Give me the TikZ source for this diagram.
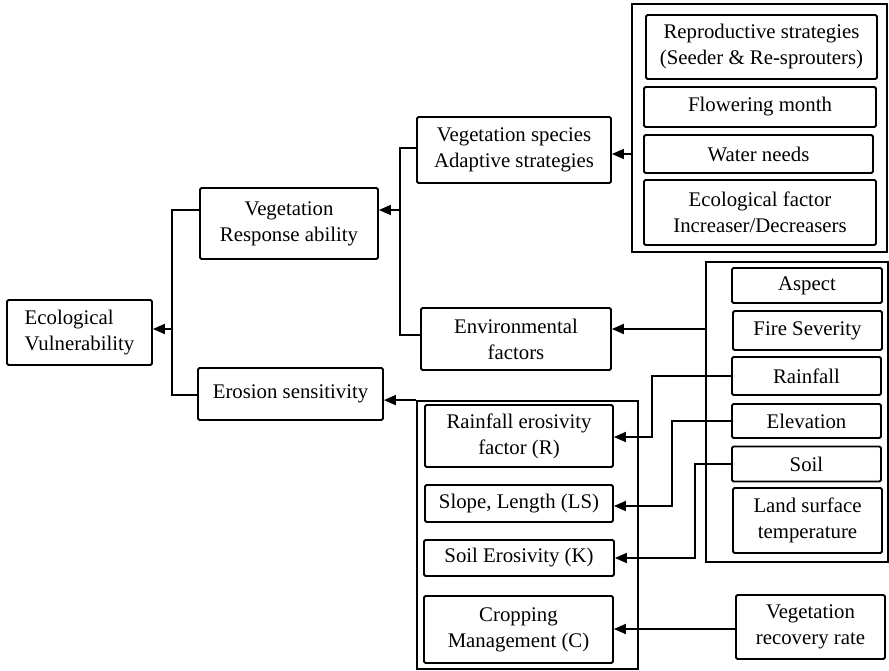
\documentclass[tikz,border=0pt]{standalone}
\usepackage{fontspec}
\setmainfont{Liberation Serif}
\usetikzlibrary{arrows.meta}
\begin{document}
\begin{tikzpicture}[x=1pt,y=-1pt,
  box/.style={draw, line width=1.8pt, rounded corners=1.5pt, inner sep=0pt, align=center,
    font=\fontsize{20.8}{26}\selectfont},
  frame/.style={draw, line width=1.8pt, inner sep=0pt},
  conn/.style={line width=1.8pt},
  arr/.style={line width=1.8pt, -{Triangle[length=12pt,width=10pt]}}]
\useasboundingbox (0,0) rectangle (889,671);
% left column
\node[box, align=left, minimum width=145, minimum height=65] (ev) at (79.5,332.5) {Ecological\\Vulnerability};
\node[box, minimum width=178, minimum height=71] (vra) at (289,223.5) {Vegetation\\Response ability};
\node[box, minimum width=185, minimum height=52] (es) at (290.5,394) {Erosion sensitivity};
% middle column
\node[box, minimum width=194, minimum height=66] (vsa) at (514,150) {Vegetation species\\Adaptive strategies};
\node[box, minimum width=190, minimum height=62] (env) at (516,339) {Environmental\\factors};
% outer group 1
\node[frame, minimum width=255, minimum height=248] (outer1) at (759.5,128) {};
\node[box, minimum width=231, minimum height=64] (rep) at (761.5,47) {Reproductive strategies\\(Seeder \& Re-sprouters)};
\node[box, minimum width=232, minimum height=40] (flo) at (760,107) {Flowering month};
\node[box, minimum width=229, minimum height=38] (wat) at (758.5,154) {Water needs};
\node[box, minimum width=232, minimum height=65] (ecf) at (760,212.5) {Ecological factor\\Increaser/Decreasers};
% outer group 2
\node[frame, minimum width=182, minimum height=300] (outer2) at (797,412) {};
\node[box, minimum width=150, minimum height=35] (asp) at (807,285.5) {Aspect};
\node[box, minimum width=149, minimum height=39] (fir) at (807.5,330.5) {Fire Severity};
\node[box, minimum width=149, minimum height=38] (rai) at (806.5,376) {Rainfall};
\node[box, minimum width=149, minimum height=34] (ele) at (806.5,421) {Elevation};
\node[box, minimum width=149, minimum height=35] (soi) at (806.5,464) {Soil};
\node[box, minimum width=149, minimum height=65] (lst) at (807.5,520.5) {Land surface\\temperature};
% outer group 3
\node[frame, minimum width=221, minimum height=268] (outer3) at (527.5,535) {};
\node[box, minimum width=188, minimum height=62] (rfr) at (519,436) {Rainfall erosivity\\factor (R)};
\node[box, minimum width=188, minimum height=37] (sll) at (519,503.5) {Slope, Length (LS)};
\node[box, minimum width=190, minimum height=36] (sek) at (519,558) {Soil Erosivity (K)};
\node[box, minimum width=189, minimum height=67] (cmc) at (518.5,629.5) {Cropping\\Management (C)};
\node[box, minimum width=149, minimum height=64] (vrr) at (810.5,627) {Vegetation\\recovery rate};
% bus 1
\coordinate (b1t) at (172,210);
\coordinate (b1m) at (172,329);
\coordinate (b1b) at (172,395);
\draw[conn] (vra.west |- b1t) -- (b1t) -- (b1b) -- (es.west |- b1b);
\draw[arr] (b1m) -- (ev.east |- b1m);
% bus 2
\coordinate (b2t) at (400,148);
\coordinate (b2m) at (400,210);
\coordinate (b2b) at (400,335);
\draw[conn] (vsa.west |- b2t) -- (b2t) -- (b2b) -- (env.west |- b2b);
\draw[arr] (b2m) -- (vra.east |- b2m);
% groups to middle
\coordinate (g1) at (632,154);
\draw[arr] (outer1.west |- g1) -- (vsa.east |- g1);
\coordinate (g2) at (706,329);
\draw[arr] (outer2.west |- g2) -- (env.east |- g2);
\draw[arr] (outer3.north west) -- (es.east |- outer3.north west);
% factors to erosion components
\coordinate (r1) at (652,376);
\coordinate (r2) at (652,437);
\draw[arr] (rai.west) -- (r1) -- (r2) -- (rfr.east |- r2);
\coordinate (e1) at (672,421);
\coordinate (e2) at (672,506);
\draw[arr] (ele.west) -- (e1) -- (e2) -- (sll.east |- e2);
\coordinate (s1) at (695,464);
\coordinate (s2) at (695,558);
\draw[arr] (soi.west) -- (s1) -- (s2) -- (sek.east |- s2);
\coordinate (v1) at (736,629);
\draw[arr] (vrr.west |- v1) -- (cmc.east |- v1);
\end{tikzpicture}
\end{document}
